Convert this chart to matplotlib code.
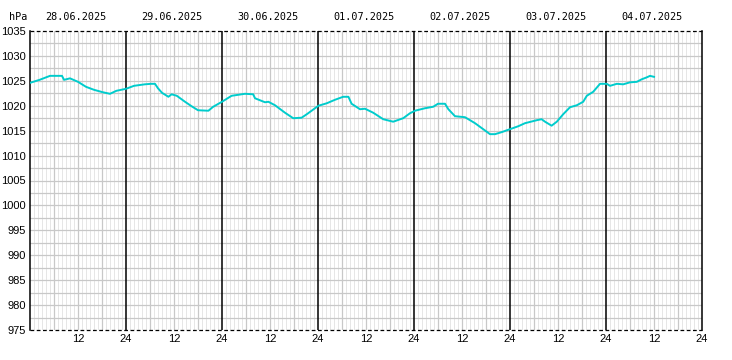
import matplotlib
matplotlib.use("Agg")
import matplotlib.pyplot as plt
import numpy as np

# ---- data ----
dates = ["28.06.2025", "29.06.2025", "30.06.2025", "01.07.2025",
         "02.07.2025", "03.07.2025", "04.07.2025"]
hours = [0, 2.4, 5, 8, 8.5, 10, 12, 14, 16, 18.25, 20, 21.6, 24, 26, 28.7, 30.3,
         31.25, 32, 33, 34.6, 35.4, 36.7, 38.75, 40.4, 42, 44.6, 45.8, 48, 50.4,
         53.75, 55.8, 56.25, 58.75, 59.6, 61.25, 63.75, 65.8, 67.9, 69.2, 70.4,
         72.1, 74.2, 76.25, 78.3, 79.6, 80.4, 82.5, 83.75, 85.8, 88.3, 90.8, 93.3,
         95, 96.25, 98.75, 100.8, 102, 103.75, 104.6, 106.25, 108.75, 111.25,
         113.3, 115, 116.25, 117.9, 120, 122.1, 123.75, 126.7, 127.9, 128.75,
         130.4, 131.7, 133.3, 135, 136.7, 138.3, 139.2, 140.8, 142.5, 144.2, 145,
         146.7, 148.3, 150, 151.7, 152.9, 154.2, 155, 156]
pressure = [1024.6, 1025.2, 1026.0, 1026.0, 1025.2, 1025.5, 1024.8, 1023.8, 1023.2,
            1022.7, 1022.4, 1023.0, 1023.4, 1024.0, 1024.3, 1024.4, 1024.4, 1023.5,
            1022.6, 1021.8, 1022.3, 1022.0, 1020.8, 1019.9, 1019.1, 1019.0, 1019.8,
            1020.8, 1022.0, 1022.4, 1022.3, 1021.5, 1020.7, 1020.8, 1020.1, 1018.6,
            1017.5, 1017.6, 1018.3, 1019.0, 1020.0, 1020.5, 1021.2, 1021.8, 1021.8,
            1020.4, 1019.3, 1019.4, 1018.6, 1017.3, 1016.8, 1017.5, 1018.5, 1019.0,
            1019.5, 1019.8, 1020.4, 1020.4, 1019.3, 1017.9, 1017.7, 1016.5, 1015.3,
            1014.3, 1014.3, 1014.7, 1015.3, 1015.9, 1016.5, 1017.1, 1017.3, 1016.8,
            1016.0, 1016.8, 1018.3, 1019.7, 1020.1, 1020.8, 1022.0, 1022.8, 1024.4,
            1024.4, 1024.0, 1024.4, 1024.3, 1024.7, 1024.8, 1025.3, 1025.7, 1026.0,
            1025.8]
y_ticks = list(range(975, 1036, 5))
x_tick_labels = ["12", "24"] * 7

W, H = 732, 360
fig = plt.figure(figsize=(W / 100, H / 100), dpi=100)
fig.patch.set_facecolor("white")
L, R, T, B = 30, 702, 31, 330
ax = fig.add_axes([L / W, 1 - B / H, (R - L) / W, (B - T) / H])
ax.set_xlim(0, 168)
ax.set_ylim(975, 1035)

px = 0.72
# minor vertical grid every hour
for h in range(1, 168):
    if h % 24 == 0:
        continue
    if h % 6 == 0:
        ax.axvline(h, color="#c8c8c8", lw=0.9, zorder=1)
    else:
        ax.axvline(h, color="#e6e6e6", lw=px, zorder=0.5)
# horizontal grid every 2.5 hPa
for v in np.arange(977.5, 1035, 2.5):
    ax.axhline(v, color="#c8c8c8", lw=0.9, zorder=1)
# day boundaries
for d in range(1, 7):
    ax.axvline(d * 24, color="black", lw=1.1, zorder=2)

ax.plot(hours, pressure, color="#00cccc", lw=1.4, zorder=3)

for s in ["left", "right"]:
    ax.spines[s].set_color("black")
    ax.spines[s].set_linewidth(1.1)
for s in ["top", "bottom"]:
    ax.spines[s].set_visible(False)
ax.axhline(1035, color="black", lw=0.9, ls=(0, (3, 2)), zorder=4, clip_on=False)
ax.axhline(975, color="black", lw=0.9, ls=(0, (3, 2)), zorder=4, clip_on=False)

ax.set_yticks(y_ticks)
ax.set_yticklabels([str(v) for v in y_ticks], family="Liberation Sans", fontsize=8)
ax.set_xticks(list(range(12, 169, 12)))
ax.set_xticklabels(x_tick_labels, family="Liberation Sans", fontsize=8)
ax.tick_params(axis="both", length=0)
ax.tick_params(axis="y", pad=3)
ax.tick_params(axis="x", pad=3)

for i, d in enumerate(dates):
    ax.text(i * 24 + 11.4, 1035 + 14 / (299 / 60), d, ha="center", va="center",
            family="DejaVu Sans Mono", fontsize=7.3, clip_on=False)
fig.text(18 / W, 1 - 17 / H, "hPa", ha="center", va="center",
         family="DejaVu Sans Mono", fontsize=7.3)

fig.savefig("out.png", dpi=100, facecolor="white")
